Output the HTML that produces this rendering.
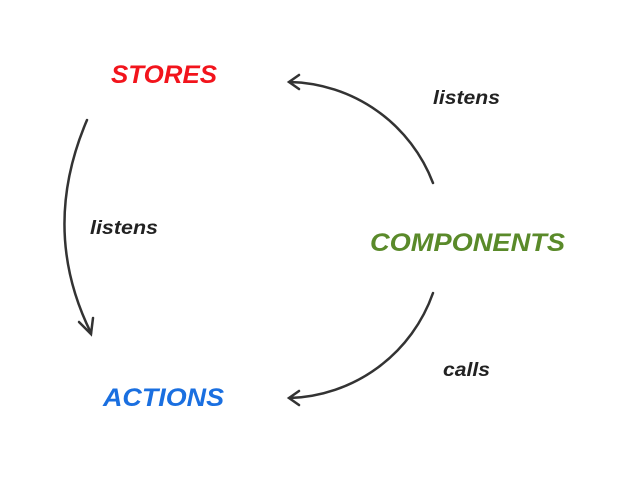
<!DOCTYPE html>
<html><head><style>html,body{margin:0;padding:0;background:#fff}</style></head>
<body>
<svg width="640" height="480" viewBox="0 0 640 480" xmlns="http://www.w3.org/2000/svg" style="display:block">
<g font-family="Liberation Sans, sans-serif" font-weight="bold" font-style="italic">
<text x="111" y="83" font-size="25" fill="#f2141c" textLength="106" lengthAdjust="spacingAndGlyphs">STORES</text>
<text x="103" y="406" font-size="25" fill="#1a6fe0" textLength="121" lengthAdjust="spacingAndGlyphs">ACTIONS</text>
<text x="370" y="251" font-size="25" fill="#5a8a2a" textLength="195" lengthAdjust="spacingAndGlyphs">COMPONENTS</text>
<g fill="#222" font-size="19">
<text x="433" y="104" textLength="67" lengthAdjust="spacingAndGlyphs">listens</text>
<text x="90" y="234" textLength="68" lengthAdjust="spacingAndGlyphs">listens</text>
<text x="443" y="376" textLength="47" lengthAdjust="spacingAndGlyphs">calls</text>
</g>
</g>
<g fill="none" stroke="#333" stroke-width="2.5" stroke-linecap="round">
<path d="M433,183 A157,157 0 0 0 290,82"/>
<path d="M299,75 L289,82 L299,89"/>
<path d="M433,293 A157,157 0 0 1 290,398"/>
<path d="M299,391 L289,398 L299,405"/>
<path d="M87,120 Q40,230 91,333"/>
<path d="M79,322 L91,334 L93,318"/>
</g>
</svg>
</body></html>
